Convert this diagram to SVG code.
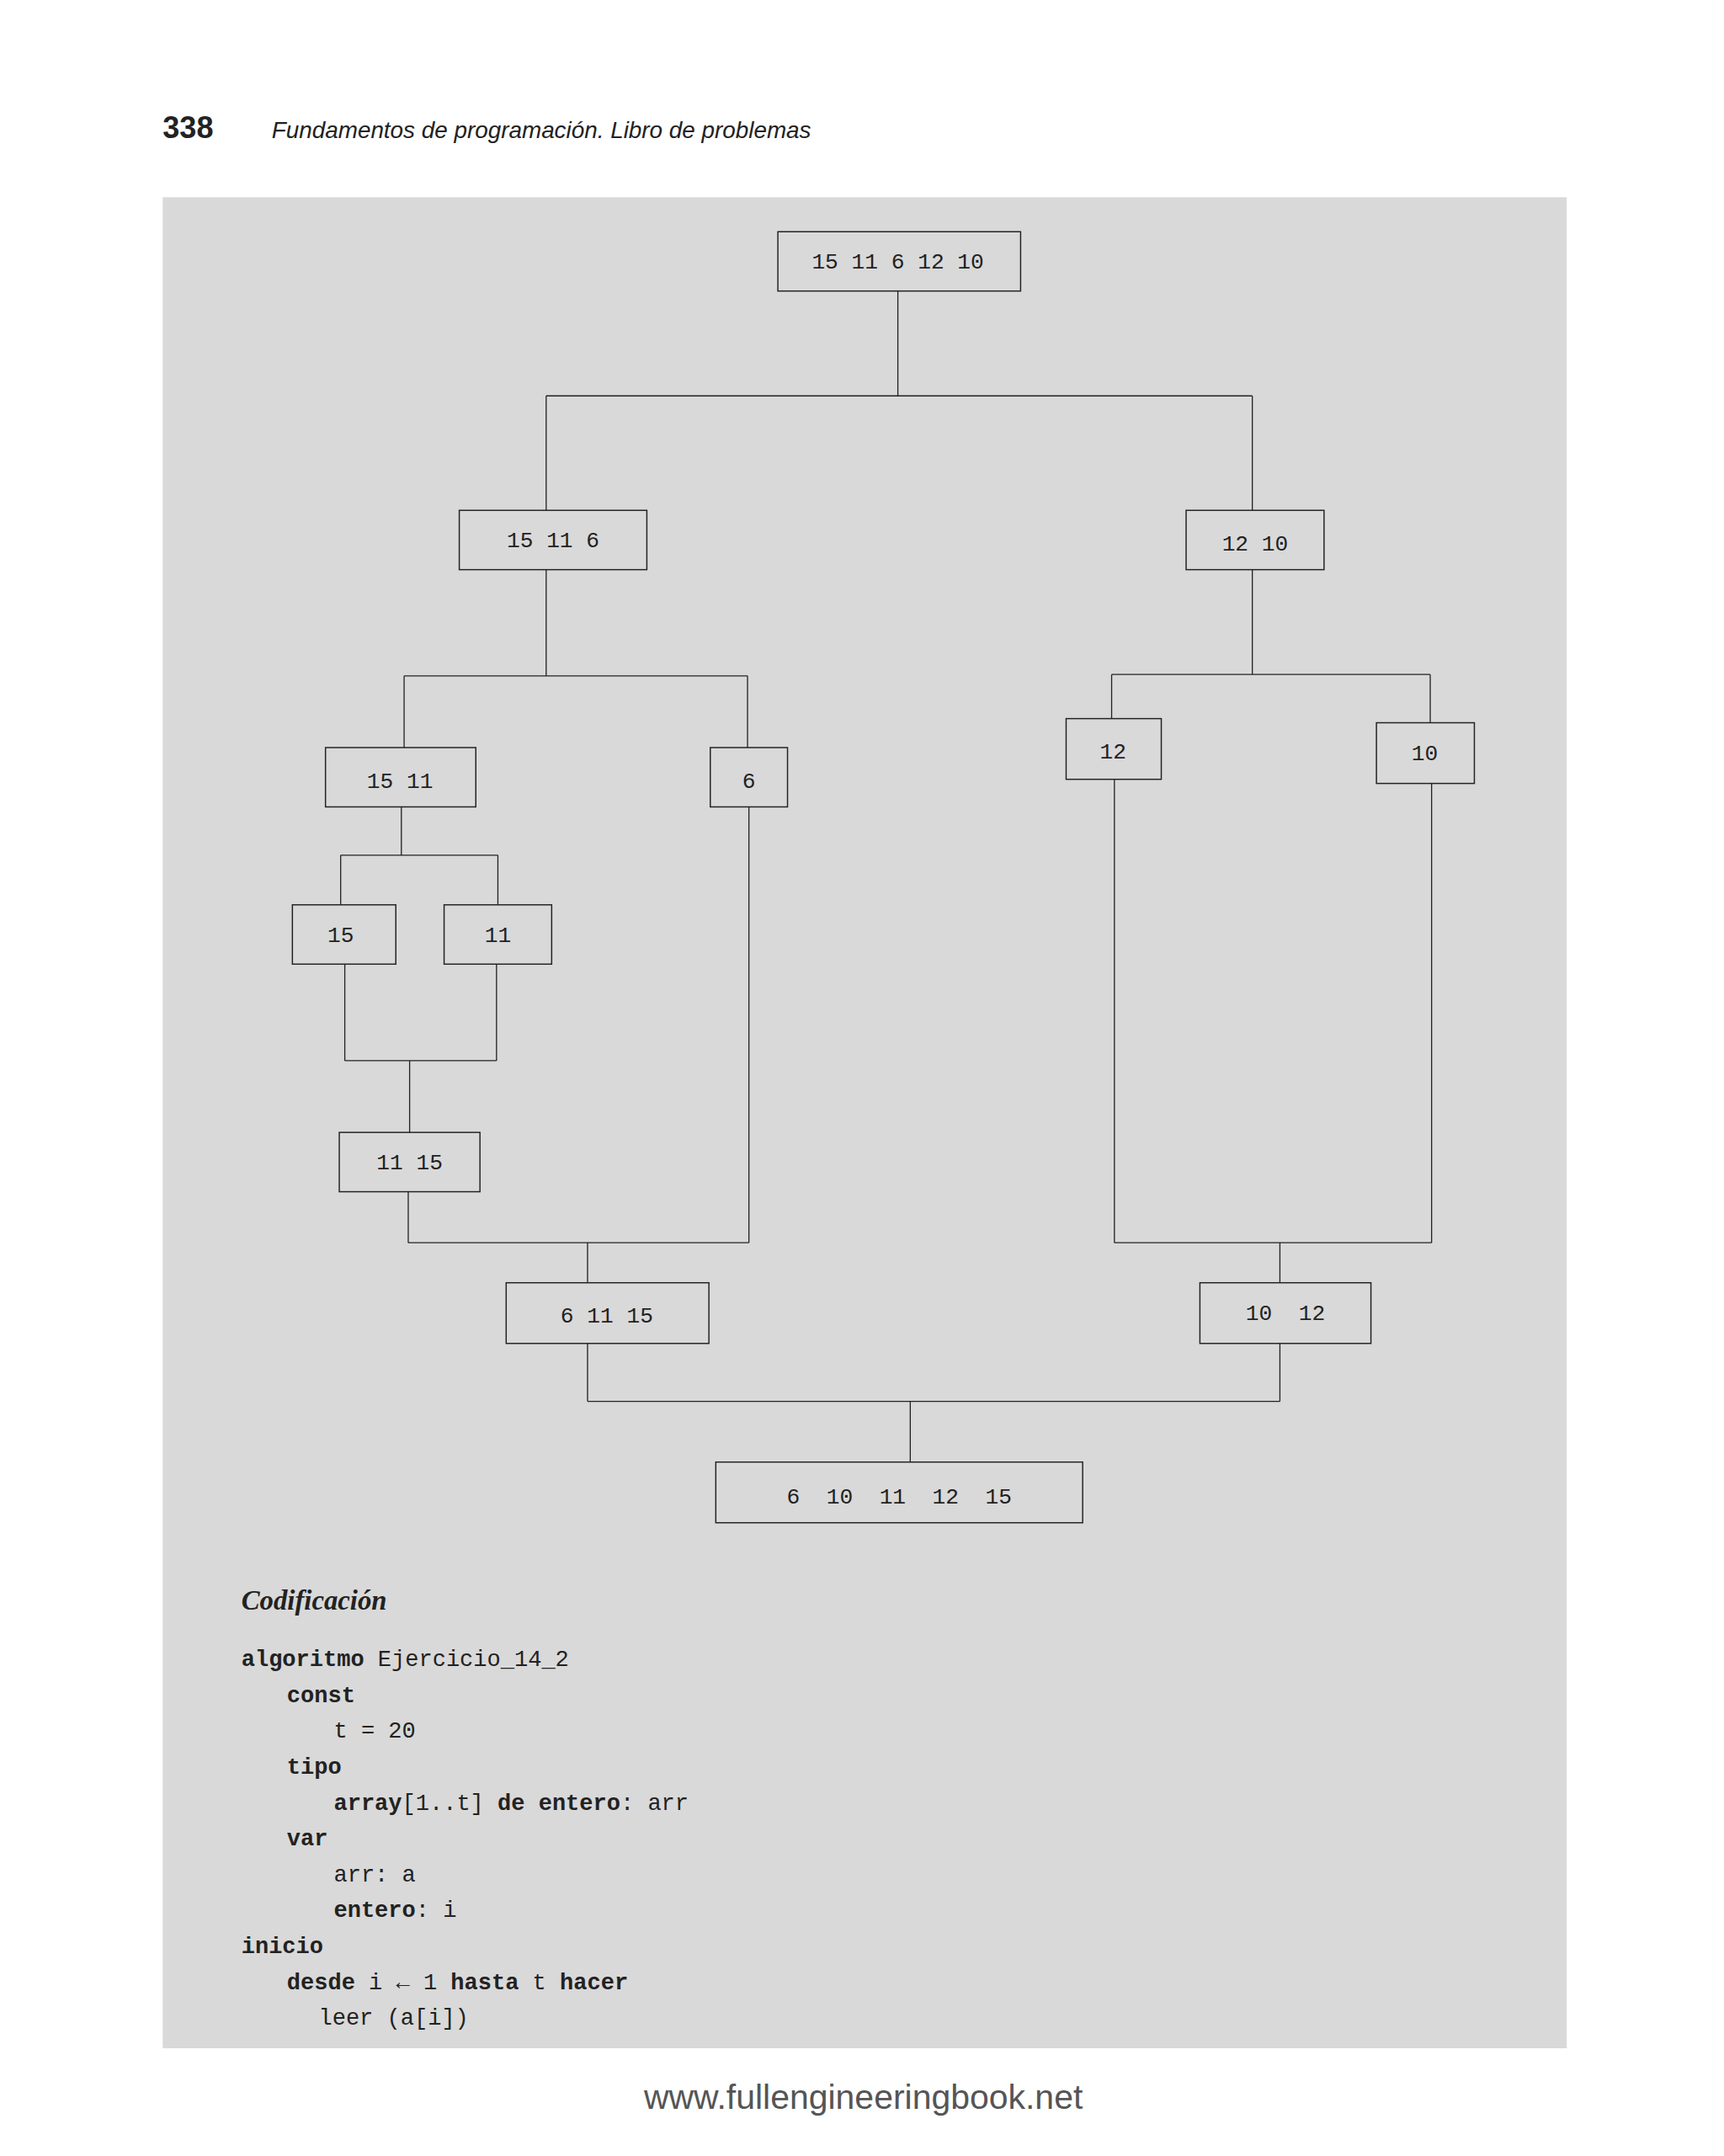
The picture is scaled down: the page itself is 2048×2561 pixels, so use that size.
<svg xmlns="http://www.w3.org/2000/svg" width="2048" height="2561" viewBox="0 0 2048 2561">
<style>
.n rect{fill:none;stroke:#222;stroke-width:0.9}
.n text,.c text{font-family:"Liberation Mono",monospace;font-size:16px;fill:#222;text-anchor:middle}
.e{fill:none;stroke:#222;stroke-width:0.8}
.code{font-family:"Liberation Mono",monospace;font-size:16.5px;fill:#222}
.code .b{font-weight:bold}
</style>
<rect width="2048" height="2561" fill="#fff"/>
<g transform="scale(1.6384)">
<rect x="118" y="143" width="1018" height="1342" fill="#d9d9d9"/>
<text x="118" y="100" font-family="Liberation Sans,sans-serif" font-weight="bold" font-size="22" fill="#222">338</text>
<text x="197" y="100" font-family="Liberation Sans,sans-serif" font-style="italic" font-size="17" fill="#222">Fundamentos de programación. Libro de problemas</text>
<g id="connectors" class="e">
<path d="M651 211V287M396 287H908M396 287V370M908 287V370"/>
<path d="M396 413V490M293 490H542M293 490V542M542 490V542"/>
<path d="M908 413V489M806 489H1037M806 489V521M1037 489V524"/>
<path d="M291 585V620M247 620H361M247 620V656M361 620V656"/>
<path d="M250 699V769M360 699V769M250 769H360M297 769V821"/>
<path d="M296 864V901M543 585V901M296 901H543M426 901V930"/>
<path d="M808 565V901M1038 568V901M808 901H1038M928 901V930"/>
<path d="M426 974V1016M928 974V1016M426 1016H928M660 1016V1060"/>
</g>
<g id="n1" class="n"><rect x="564" y="168" width="176" height="43"/><text x="651" y="195">15 11 6 12 10</text></g>
<g id="n2" class="n"><rect x="333" y="370" width="136" height="43"/><text x="401" y="397">15 11 6</text></g>
<g id="n3" class="n"><rect x="860" y="370" width="100" height="43"/><text x="910" y="399">12 10</text></g>
<g id="n4" class="n"><rect x="236" y="542" width="109" height="43"/><text x="290" y="571">15 11</text></g>
<g id="n5" class="n"><rect x="515" y="542" width="56" height="43"/><text x="543" y="571">6</text></g>
<g id="n6" class="n"><rect x="773" y="521" width="69" height="44"/><text x="807" y="550">12</text></g>
<g id="n7" class="n"><rect x="998" y="524" width="71" height="44"/><text x="1033" y="551">10</text></g>
<g id="n8" class="n"><rect x="212" y="656" width="75" height="43"/><text x="247" y="683">15</text></g>
<g id="n9" class="n"><rect x="322" y="656" width="78" height="43"/><text x="361" y="683">11</text></g>
<g id="n10" class="n"><rect x="246" y="821" width="102" height="43"/><text x="297" y="848">11 15</text></g>
<g id="n11" class="n"><rect x="367" y="930" width="147" height="44"/><text x="440" y="959">6 11 15</text></g>
<g id="n12" class="n"><rect x="870" y="930" width="124" height="44"/><text x="932" y="957" xml:space="preserve">10  12</text></g>
<g id="n13" class="n"><rect x="519" y="1060" width="266" height="44"/><text x="652" y="1090" xml:space="preserve">6  10  11  12  15</text></g>
<text x="175" y="1167" font-family="Liberation Serif,serif" font-style="italic" font-weight="bold" font-size="20" fill="#222">Codificación</text>
<g class="code">
<text x="175" y="1208"><tspan class="b">algoritmo</tspan> Ejercicio_14_2</text>
<text x="208" y="1234" class="b">const</text>
<text x="242" y="1260">t = 20</text>
<text x="208" y="1286" class="b">tipo</text>
<text x="242" y="1312"><tspan class="b">array</tspan>[1..t] <tspan class="b">de entero</tspan>: arr</text>
<text x="208" y="1338" class="b">var</text>
<text x="242" y="1364">arr: a</text>
<text x="242" y="1390"><tspan class="b">entero</tspan>: i</text>
<text x="175" y="1416" class="b">inicio</text>
<text x="208" y="1442"><tspan class="b">desde</tspan> i ← 1 <tspan class="b">hasta</tspan> t <tspan class="b">hacer</tspan></text>
<text x="231" y="1468">leer (a[i])</text>
</g>
<text x="626" y="1529" text-anchor="middle" font-family="Liberation Sans,sans-serif" font-size="25" fill="#555">www.fullengineeringbook.net</text>
</g>
</svg>
